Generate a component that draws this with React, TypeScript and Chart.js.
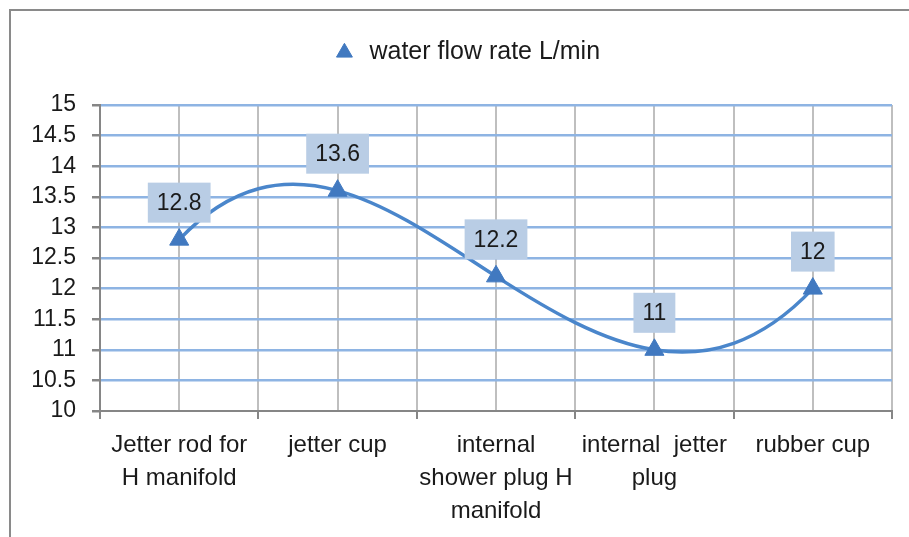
import React, { useEffect, useRef } from "react";
import { Chart, registerables } from "chart.js";

Chart.register(...registerables);

const categories: string[][] = [
  ["Jetter rod for", "H manifold"],
  ["jetter cup"],
  ["internal", "shower plug H", "manifold"],
  ["internal  jetter", "plug"],
  ["rubber cup"],
];
const flowRates: number[] = [12.8, 13.6, 12.2, 11, 12];
const seriesName = "water flow rate L/min";
const yMin = 10;
const yMax = 15;
const yStep = 0.5;

const FONT = "'Liberation Sans', Arial, sans-serif";
const TEXT = "#1a1a1a";
const MARKER = "#4179C0";

// Solve a small dense linear system (Gaussian elimination)
function solve(A: number[][], b: number[]): number[] {
  const n = b.length;
  const M = A.map((r, i) => [...r, b[i]]);
  for (let c = 0; c < n; c++) {
    let p = c;
    for (let r = c + 1; r < n; r++) if (Math.abs(M[r][c]) > Math.abs(M[p][c])) p = r;
    [M[c], M[p]] = [M[p], M[c]];
    for (let r = 0; r < n; r++) {
      if (r === c) continue;
      const f = M[r][c] / M[c][c];
      for (let k = c; k <= n; k++) M[r][k] -= f * M[c][k];
    }
  }
  return M.map((r, i) => r[n] / r[i]);
}

// Smooth curve like the spreadsheet's: not-a-knot cubic spline through the points (pixel space)
const smoothCurve = {
  id: "smoothCurve",
  beforeDatasetDraw(chart: any, args: any) {
    const meta = chart.getDatasetMeta(args.index);
    const line = meta.dataset;
    line.updateControlPoints(chart.chartArea, meta.iScale.axis);
    const pts = meta.data;
    const n = pts.length;
    if (n < 4) return;
    const x = pts.map((p: any) => p.x);
    const y = pts.map((p: any) => p.y);
    const h: number[] = [];
    for (let i = 0; i < n - 1; i++) h.push(x[i + 1] - x[i]);
    const A: number[][] = [];
    const b: number[] = [];
    const row = () => new Array(n).fill(0);
    let r = row();
    r[0] = 1 / h[0];
    r[1] = -1 / h[0] - 1 / h[1];
    r[2] = 1 / h[1];
    A.push(r);
    b.push(0);
    for (let i = 1; i < n - 1; i++) {
      r = row();
      r[i - 1] = h[i - 1];
      r[i] = 2 * (h[i - 1] + h[i]);
      r[i + 1] = h[i];
      A.push(r);
      b.push(6 * ((y[i + 1] - y[i]) / h[i] - (y[i] - y[i - 1]) / h[i - 1]));
    }
    r = row();
    r[n - 3] = 1 / h[n - 3];
    r[n - 2] = -1 / h[n - 3] - 1 / h[n - 2];
    r[n - 1] = 1 / h[n - 2];
    A.push(r);
    b.push(0);
    const M = solve(A, b);
    for (let i = 0; i < n - 1; i++) {
      const d = (y[i + 1] - y[i]) / h[i];
      const s0 = d - (h[i] * (2 * M[i] + M[i + 1])) / 6;
      const s1 = d + (h[i] * (M[i] + 2 * M[i + 1])) / 6;
      pts[i].cp2x = x[i] + h[i] / 3;
      pts[i].cp2y = y[i] + (s0 * h[i]) / 3;
      pts[i + 1].cp1x = x[i + 1] - h[i] / 3;
      pts[i + 1].cp1y = y[i + 1] - (s1 * h[i]) / 3;
    }
    line._path = undefined;
  },
};

const legendSpacer = {
  id: "legendSpacer",
  beforeLayout(chart: any) {
    const lg = chart.legend;
    if (lg && !lg._spaced) {
      const orig = lg.fit.bind(lg);
      lg.fit = function () {
        orig();
        this.height += 30;
      };
      lg._spaced = true;
    }
  },
  afterLayout(chart: any) {
    const lg = chart.legend;
    if (lg) {
      lg.left += 20;
      lg.right += 20;
    }
  },
};

const labelBoxPlugin = {
  id: "labelBoxes",
  afterDatasetsDraw(chart: any) {
    const ctx = chart.ctx;
    const meta = chart.getDatasetMeta(0);
    const data = chart.data.datasets[0].data as number[];
    ctx.save();
    ctx.font = `23px ${FONT}`;
    meta.data.forEach((pt: any, i: number) => {
      const text = String(data[i]);
      const w = ctx.measureText(text).width + 18;
      const h = 40;
      const x = pt.x - w / 2;
      const y = pt.y - 17 - h;
      ctx.fillStyle = "#B9CDE5";
      ctx.fillRect(x, y, w, h);
      ctx.fillStyle = TEXT;
      ctx.textAlign = "center";
      ctx.textBaseline = "middle";
      ctx.fillText(text, pt.x, y + h / 2 + 1);
    });
    ctx.restore();
  },
};

export default function App() {
  const ref = useRef<HTMLCanvasElement>(null);

  useEffect(() => {
    if (!ref.current) return;
    const chart = new Chart(ref.current, {
      type: "line",
      data: {
        labels: categories,
        datasets: [
          {
            label: seriesName,
            data: flowRates,
            borderColor: "#4A86CB",
            backgroundColor: MARKER,
            borderWidth: 3.5,
            tension: 0.4,
            pointStyle: "triangle",
            pointRadius: 11,
            pointBackgroundColor: MARKER,
            pointBorderColor: MARKER,
            pointBorderWidth: 1,
            fill: false,
          },
        ],
      },
      options: {
        responsive: false,
        animation: false,
        devicePixelRatio: 1,
        layout: { padding: { left: 0, right: 17, top: 20, bottom: 0 } },
        plugins: {
          tooltip: { enabled: false },
          legend: {
            position: "top",
            labels: {
              usePointStyle: true,
              boxHeight: 13,
              padding: 20,
              color: TEXT,
              font: { family: FONT, size: 25 },
              generateLabels(c: any) {
                const items = (Chart.defaults.plugins.legend.labels as any).generateLabels(c);
                return items.map((it: any) => ({ ...it, lineWidth: 1, strokeStyle: MARKER, fillStyle: MARKER }));
              },
            },
          },
        },
        scales: {
          x: {
            type: "category",
            offset: true,
            grid: {
              offset: true,
              color: "#BFBFBF",
              lineWidth: 2,
              tickLength: 8,
              tickColor: "#868686",
            },
            border: { color: "#868686", width: 2 },
            ticks: {
              font: { family: FONT, size: 24, lineHeight: 1.375 },
              color: TEXT,
              padding: 10,
              maxRotation: 0,
              autoSkip: false,
            },
            afterFit(s: any) {
              s.height = 126;
            },
          },
          x2: {
            type: "category",
            position: "bottom",
            offset: true,
            grid: { offset: false, color: "#BFBFBF", lineWidth: 2, drawTicks: false },
            border: { display: false },
            ticks: { display: false },
            afterFit(s: any) {
              s.height = 0;
            },
          },
          y: {
            min: yMin,
            max: yMax,
            ticks: {
              stepSize: yStep,
              font: { family: FONT, size: 23 },
              color: TEXT,
              padding: 16,
              callback: (v: any) => String(Number(v)),
            },
            grid: {
              color: (c: any) => (c.tick && c.tick.value === yMin ? "rgba(0,0,0,0)" : "#8EB4E3"),
              lineWidth: 2.5,
              tickLength: 8,
              tickColor: "#868686",
            },
            border: { color: "#868686", width: 2 },
            afterFit(s: any) {
              s.width = 100;
            },
          },
        },
      },
      plugins: [legendSpacer, smoothCurve, labelBoxPlugin],
    } as any);
    return () => chart.destroy();
  }, []);

  return (
    <div style={{ position: "absolute", left: 0, top: 0, width: 909, height: 537, background: "#fff", overflow: "hidden" }}>
      <div
        style={{
          position: "absolute",
          left: 9,
          top: 9,
          right: -10,
          bottom: -10,
          borderLeft: "2px solid #8a8a8a",
          borderTop: "2px solid #8a8a8a",
        }}
      />
      <canvas ref={ref} width={909} height={537} style={{ position: "absolute", left: 0, top: 0 }} />
    </div>
  );
}
